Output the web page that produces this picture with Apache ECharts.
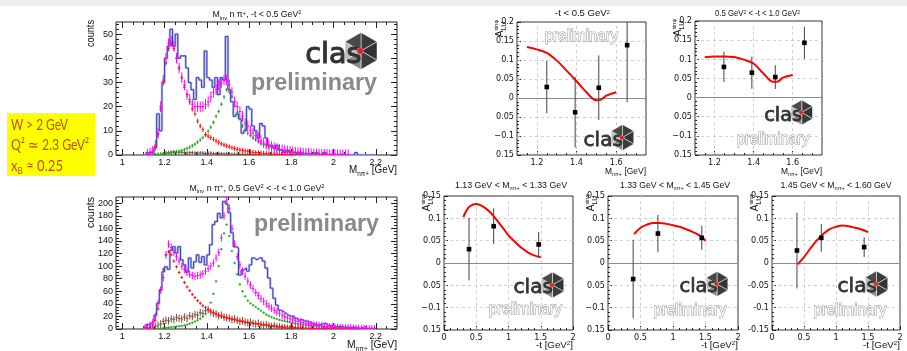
<!DOCTYPE html>
<html><head><meta charset="utf-8">
<script src="https://cdn.jsdelivr.net/npm/echarts@6/dist/echarts.min.js"></script>
<style>html,body{margin:0;padding:0;background:#fff}#c{width:907px;height:351px}</style>
</head><body><div id="c"></div>
<script>
// ================= DATA =================
const BIN_START = 1.1, BIN_WIDTH = 0.0125;

// -t < 0.5 GeV^2 : data, total, Delta, N*, background
const topData  = [0,1,1,1,3,17,10,30,40,45, 52,45,50,40,41,41,36,30,27,23, 32,31,28,43,32,31,28,32,25,32, 31,49,27,22,16,17,15,9,10,20, 19,12,10,7,13,12,7,4,4,3, 4,2,2,1,2,1,1,1,0,1, 0,0,0,0,0,1,0,0,1,0, 0,0,0,0,0,0,0,0,0,0, 1,0,0,0,0,0,0,0];
const topTotal = [0,0.3,0.8,1.5,4,9,20,31,40,46, 47,45,40,36,32,29,25,23,21,20, 20,20,20,21,22,24,26,27,29,30, 31,31,29,26,22,20,18,16,13,12, 10,9,8,7,6,5,4.5,4,3.5,3, 2.7,2.4,2.1,1.9,1.7,1.5,1.3,1.2,1.0,0.9, 0.8,0.7,0.6,0.5,0.5,0.4,0.4,0.3,0.3,0.3, 0.2,0.2,0.2,0.2,0.1,0.1,0.1,0.1,0,0, 0,0,0,0,0,0,0,0];
const topDelta = [0,0.2,0.6,1.2,3.5,8.5,19,30,38,44, 46,44,40,36,32,28,25,22,19,17, 14,12,10.5,8.5,7.8,7.2,6.5,5.8,5.2,4.6, 4.2,3.8,3.4,3.0,2.7,2.4,2.1,1.9,1.7,1.5, 1.3,1.1,1.0,0.9,0.8,0.7,0.6,0.5,0.45,0.4, 0.35,0.3,0.25,0.2,0.2,0.15,0.1,0.1,0.1,0.05, 0,0,0,0,0,0,0,0,0,0, 0,0,0,0,0,0,0,0,0,0, 0,0,0,0,0,0,0,0];
const topNstar = [0,0,0,0,0.1,0.2,0.3,0.4,0.5,0.6, 0.8,1.0,1.2,1.5,1.8,2.2,2.7,3.2,3.8,4.5, 5.3,6.2,7.2,8.3,9.8,11.5,13.5,16,18,21, 24,27,26,24,20.5,17.5,15,12,10.5,9, 8,7,6.3,5.6,5.0,4.4,3.9,3.4,3.0,2.7, 2.4,2.1,1.9,1.7,1.5,1.3,1.2,1.0,0.9,0.8, 0.7,0.6,0.5,0.45,0.4,0.35,0.3,0.25,0.2,0.2, 0.15,0.1,0.1,0.1,0.05,0.05,0,0,0,0, 0,0,0,0,0,0,0,0];
const topBkg   = [0,0,0,0,0,0.1,0.2,0.5,0.8,1.0, 1.2,1.3,1.2,1.0,1.1,0.9,0.8,0.9,1.0,0.8, 0.7,0.9,0.8,0.6,0.7,0.8,0.6,0.5,0.6,0.5, 0.4,0.5,0.4,0.3,0.3,0.3,0.2,0.2,0.2,0.1, 0.1,0.1,0.1,0,0,0,0,0,0,0, 0,0,0,0,0,0,0,0,0,0, 0,0,0,0,0,0,0,0,0,0, 0,0,0,0,0,0,0,0,0,0, 0,0,0,0,0,0,0,0];
const topErr = {total:2.2, delta:1.0, nstar:0.8, bkg:0.8};

// 0.5 < -t < 1.0 GeV^2
const botData  = [3,7,9,11,22,41,62,91,99,95, 125,131,121,131,110,102,91,113,97,107, 118,106,115,102,118,134,166,171,184,177, 203,199,185,153,131,129,86,94,97,92, 102,113,110,113,113,108,97,81,65,49, 38,30,28,25,22,20,21,17,14,15, 13,12,11,9,8,6,7,8,9,6, 5,5,4,4,4,3,3,2,3,2, 2,1,2,1,1,1,0,1];
const botTotal = [1,3,6,10,20,40,62,82,118,135, 130,122,115,108,100,95,90,87,85,84, 85,86,88,92,96,100,105,113,122,145, 180,205,192,160,135,115,102,92,84,76, 70,64,58,53,48,44,40,36,33,30, 27,25,22,20,18,16,14.5,13,12,11, 10,9,8,7,6.5,6,5.3,4.8,4.3,3.9, 3.5,3.1,2.8,2.5,2.2,2,1.8,1.6,1.4,1.2, 1,0.9,0.8,0.7,0.6,0.5,0.5,0.4];
const botDelta = [0.5,1.5,3,6,14,32,62,95,118,123, 118,108,99,90,82,74,67,61,55,50, 45,41,37,34,31,28,26,24,22,20, 19,18,17,16,15,14,13,12,11,10.5, 10,9.3,8.7,8,7.4,6.8,6.3,5.8,5.3,4.8, 4.4,4,3.7,3.4,3.1,2.8,2.5,2.3,2.1,1.9, 1.7,1.5,1.3,1.2,1.0,0.9,0.8,0.7,0.6,0.5, 0.45,0.4,0.35,0.3,0.25,0.2,0.2,0.15,0.1,0.1, 0.1,0,0,0,0,0,0,0];
const botNstar = [0,0,0,0,0,0.5,1,1.5,2,2.5, 3,3.5,4,4.5,5,6,7,8.5,10,12, 14,16.5,19.5,24,30,42,56,76,100,127, 152,166,148,124,105,87,71,60,52,45, 41,38,35,32,29,26,23,21,19,17.5, 16,14.5,13.5,12.5,11.5,10.5,9.5,8.8,8,7.4, 6.8,6.2,5.7,5.3,4.9,4.5,4.1,3.7,3.4,3.1, 2.8,2.5,2.3,2.1,1.9,1.7,1.5,1.3,1.2,1.0, 0.9,0.8,0.7,0.6,0.5,0.4,0.3,0.3];
const botBkg   = [0,1,2,3,4,6,8,12,14,13, 16,15,18,17,16,19,17,21,20,23, 22,26,25,29,31,27,25,24,21,22, 19,18,17,15,16,14,12,13,11,10, 11,9,8,9,7,6,7,5,4,5, 3,3,2,2,1,1,1,0.5,0.5,0.5, 0,0,0,0,0,0,0,0,0,0, 0,0,0,0,0,0,0,0,0,0, 0,0,0,0,0,0,0,0];
const botErr = {total:6, delta:2.5, nstar:2, bkg:6};

// tick labels
const histXTicks = [1,1.2,1.4,1.6,1.8,2,2.2];
const histXLabels = ['1','1.2','1.4','1.6','1.8','2','2.2'];
const topYTicks = [0,10,20,30,40,50];
const topYLabels = ['0','10','20','30','40','50'];
const botYTicks = [0,20,40,60,80,100,120,140,160,180,200];
const botYLabels = ['0','20','40','60','80','100','120','140','160','180','200'];
const massTicks = [1.2,1.4,1.6];
const massLabels = ['1.2','1.4','1.6'];
const tTicks = [0,0.5,1,1.5,2];
const tLabels = ['0','0.5','1','1.5','2'];
const asymYTicksAB = [0.2,0.15,0.1,0.05,0,-0.05,-0.1,-0.15];
const asymYLabelsAB = ['0.2','0.15','0.1','0.05','0','0.05','\u22120.1','0.15'];
const asymYTicksT = [0.15,0.1,0.05,0,-0.05,-0.1,-0.15];
const asymYLabelsCD = ['0.15','0.1','0.05','0','0.05','\u22120.1','0.15'];
const asymYLabelsE = ['0.15','0.1','0.05','0','-0.05','-0.1','-0.15'];

// beam-spin asymmetry vs M(n pi+)
const tLowM = [1.25,1.393,1.512,1.655];
const tLowA = [0.029,-0.0375,0.027,0.139];
const tLowErr = [0.069,0.093,0.085,0.15];
const tLowCurveM = [1.15,1.2,1.25,1.3,1.35,1.4,1.45,1.5,1.52,1.55,1.6];
const tLowCurveA = [0.134,0.128,0.119,0.099,0.072,0.044,0.015,-0.006,-0.005,0.006,0.015];
const tHighM = [1.248,1.391,1.511,1.66];
const tHighA = [0.080,0.065,0.0535,0.143];
const tHighErr = [0.04,0.042,0.031,0.042];
const tHighCurveM = [1.15,1.2,1.25,1.3,1.35,1.4,1.45,1.5,1.52,1.55,1.6];
const tHighCurveA = [0.1055,0.107,0.107,0.106,0.099,0.089,0.063,0.041,0.041,0.052,0.059];
// vs -t
const m1T = [0.388,0.77,1.468], m1A = [0.031,0.0824,0.0416], m1Err = [0.07,0.04,0.028];
const m1CurveT = [0.3,0.35,0.4,0.5,0.6,0.7,0.8,0.9,1.0,1.1,1.2,1.3,1.4,1.5];
const m1CurveA = [0.103,0.118,0.127,0.132,0.127,0.116,0.0995,0.081,0.062,0.0475,0.034,0.024,0.017,0.0127];
const m2T = [0.387,0.768,1.443], m2A = [-0.036,0.066,0.0564], m2Err = [0.088,0.042,0.027];
const m2CurveT = [0.4,0.5,0.6,0.7,0.8,0.9,1.0,1.1,1.2,1.3,1.4,1.5];
const m2CurveA = [0.0646,0.079,0.086,0.0898,0.0898,0.0876,0.0846,0.081,0.0757,0.0698,0.0624,0.0497];
const m3T = [0.39,0.77,1.44], m3A = [0.028,0.0564,0.0356], m3Err = [0.085,0.031,0.022];
const m3CurveT = [0.4,0.5,0.6,0.7,0.8,0.9,1.0,1.1,1.2,1.3,1.4,1.5];
const m3CurveA = [-0.003,0.0134,0.0327,0.0505,0.065,0.0757,0.081,0.0839,0.0824,0.079,0.075,0.069];

// ================= RENDER =================
const FONT = "'Liberation Sans', Arial, Helvetica, sans-serif";
const NARROW = "'Liberation Sans Narrow', 'DejaVu Sans Condensed', 'Liberation Sans', sans-serif";
const LOGOFONT = "'DejaVu Sans', sans-serif";
const mctx = document.createElement('canvas').getContext('2d');
function tw(t, s, fam, wt) { mctx.font = (wt || 'normal') + ' ' + s + 'px ' + fam; return mctx.measureText(t).width; }

const option = {animation:false, backgroundColor:'#ffffff', grid:[], xAxis:[], yAxis:[], series:[], graphic:{elements:[]}};
const G = option.graphic.elements;
const ZT = 100;

function rich(parts, o) {
  const fam = o.family || FONT, wt = o.weight || 'normal', col = o.color || '#111';
  let cursor = 0, lastStart = 0; const items = [];
  parts.forEach(p => {
    const w = tw(p.t, p.s, fam, wt);
    let st;
    if (p.stack) { st = lastStart; cursor = Math.max(cursor, st + w); }
    else { st = cursor; lastStart = st; cursor = st + w; }
    items.push({p, st});
  });
  const total = cursor;
  const off = o.align === 'right' ? -total : (o.align === 'center' ? -total / 2 : 0);
  const sc = o.width ? o.width / total : 1;
  const children = items.map(({p, st}) => ({type:'text', z:ZT, x: st + off, y: -0.35 * p.s + (p.dy || 0),
    style:{text:p.t, fontSize:p.s, fontFamily:fam, fontWeight:wt, fill:o.fill || col, stroke:o.stroke || null, lineWidth:o.lineWidth || 0, align:'left', verticalAlign:'middle'}}));
  G.push({type:'group', x:o.x, y:o.y, rotation:o.rotate || 0, scaleX:sc, z:ZT, silent:true, children});
}

function logo(cx, cy, r) {
  const ch = [];
  const vs = [];
  for (let k = 0; k < 6; k++) { const a = (-90 + 60 * k) * Math.PI / 180; vs.push([cx + r * Math.cos(a), cy + r * Math.sin(a)]); }
  const fills = ['#3b3b3b','#333333','#3b3b3b','#8a8a8a','#bdbdbd','#4a4a4a'];
  for (let k = 0; k < 6; k++) ch.push({type:'polygon', z:ZT, shape:{points:[[cx,cy], vs[k], vs[(k+1)%6]]}, style:{fill:fills[k], stroke:'#ffffff', lineWidth:0.5}});
  const fs = 1.55 * r;
  ch.push({type:'text', z:ZT, x:cx + 0.5, y:cy + 0.78 * r - 0.35 * fs, style:{text:'clas', fontSize:fs, fontFamily:LOGOFONT, fill:'#333333', stroke:'#333333', lineWidth:r * 0.06, align:'right', verticalAlign:'middle'}});
  ch.push({type:'circle', z:ZT, shape:{cx:cx - 0.05 * r, cy:cy, r:0.17 * r}, style:{fill:'#d8202a', stroke:'#f08080', lineWidth:0.6}});
  G.push({type:'group', z:ZT, silent:true, children:ch});
}

function minorVals(min, max, step, majors) {
  const out = []; const k0 = Math.ceil(min / step - 1e-9), k1 = Math.floor(max / step + 1e-9);
  for (let k = k0; k <= k1; k++) { const v = +(k * step).toFixed(6);
    if (v > min + 1e-9 && v < max - 1e-9 && !majors.some(m => Math.abs(m - v) < 1e-9)) out.push(v); }
  return out;
}

function addPanel(c) {
  const gi = option.grid.length;
  option.grid.push({left:c.l, top:c.t, width:c.w, height:c.h, show:true, borderColor:c.frame || '#222', borderWidth:1, backgroundColor:'rgba(0,0,0,0)'});
  const base = {gridIndex:gi, type:'value', silent:true, axisLine:{show:false, onZero:false}, splitLine:{show:false}};
  const fmt = (ticks, labels) => v => { for (let i = 0; i < ticks.length; i++) if (Math.abs(ticks[i] - v) < 1e-6) return labels[i]; return ''; };
  const ts = {color:'#222', width:1};
  const xMinor = minorVals(c.xMin, c.xMax, c.xMinorStep, c.xTicks);
  const yMinor = minorVals(c.yMin, c.yMax, c.yMinorStep, c.yTicks);
  const mk = (dim, pos, vals, len, labels) => Object.assign({}, base, {
    min: dim === 'x' ? c.xMin : c.yMin, max: dim === 'x' ? c.xMax : c.yMax, position:pos,
    axisTick:{show:true, inside:true, length:len, customValues:vals, lineStyle:ts},
    axisLabel: labels ? {show:true, customValues:vals, formatter:fmt(vals, labels), fontSize:c.fs, fontFamily:c.ff, color:'#111', margin: dim === 'x' ? c.xm : c.ym} : {show:false}
  });
  const xi = option.xAxis.length, yi = option.yAxis.length;
  option.xAxis.push(mk('x', 'bottom', c.xTicks, c.tl, c.xLabels));
  option.xAxis.push(mk('x', 'bottom', xMinor, c.ml, null));
  option.yAxis.push(mk('y', 'left', c.yTicks, c.tl, c.yLabels));
  option.yAxis.push(mk('y', 'left', yMinor, c.ml, null));
  if (c.mirror) {
    option.xAxis.push(mk('x', 'top', c.xTicks, c.tl, null));
    option.xAxis.push(mk('x', 'top', xMinor, c.ml, null));
    option.yAxis.push(mk('y', 'right', c.yTicks, c.tl, null));
    option.yAxis.push(mk('y', 'right', yMinor, c.ml, null));
  }
  return {xi, yi};
}

// ---------- histograms ----------
function histSeries(ax, vals, color, width, z) {
  const pts = [[BIN_START, 0]];
  vals.forEach((v, i) => pts.push([BIN_START + i * BIN_WIDTH, v]));
  const end = BIN_START + vals.length * BIN_WIDTH;
  pts.push([end, vals[vals.length - 1]]); pts.push([end, 0]);
  option.series.push({type:'line', xAxisIndex:ax.xi, yAxisIndex:ax.yi, data:pts, step:'end', showSymbol:false, silent:true, z:z,
    lineStyle:{color:color, width:width}});
}
function crossSeries(ax, vals, err, color, z) {
  const data = vals.map((v, i) => [BIN_START + (i + 0.5) * BIN_WIDTH, v, err]).filter(d => d[1] > 0);
  option.series.push({type:'custom', xAxisIndex:ax.xi, yAxisIndex:ax.yi, data:data, silent:true, z:z, clip:true,
    renderItem(params, api) {
      const x = api.value(0), y = api.value(1), e = api.value(2);
      const c = api.coord([x, y]), t = api.coord([x, y + e]), b = api.coord([x, y - e]);
      const l = api.coord([x - BIN_WIDTH / 2, y]), r = api.coord([x + BIN_WIDTH / 2, y]);
      return {type:'group', children:[
        {type:'line', shape:{x1:l[0], y1:c[1], x2:r[0], y2:c[1]}, style:{stroke:color, lineWidth:1}},
        {type:'line', shape:{x1:c[0], y1:t[1], x2:c[0], y2:b[1]}, style:{stroke:color, lineWidth:1}}]};
    }});
}
const histCommon = {l:116, w:281, xMin:0.97, xMax:2.3, xTicks:histXTicks, xLabels:histXLabels, xMinorStep:0.05,
  tl:6, ml:3, mirror:true, fs:9, ff:FONT, xm:3, ym:3};
const axTop = addPanel(Object.assign({}, histCommon, {t:22, h:133, yMin:0, yMax:55, yTicks:topYTicks, yLabels:topYLabels, yMinorStep:2}));
const axBot = addPanel(Object.assign({}, histCommon, {t:197, h:132, yMin:0, yMax:210, yTicks:botYTicks, yLabels:botYLabels, yMinorStep:5}));

[[axTop, topData, topTotal, topDelta, topNstar, topBkg, topErr], [axBot, botData, botTotal, botDelta, botNstar, botBkg, botErr]].forEach(([ax, d, tot, del, ns, bk, er]) => {
  histSeries(ax, d, '#bcc2ee', 2.4, 2);
  histSeries(ax, d, '#3a3ab8', 1, 3);
  crossSeries(ax, bk, er.bkg, '#7b4b3a', 4);
  crossSeries(ax, ns, er.nstar, '#2aa62a', 5);
  crossSeries(ax, del, er.delta, '#ff1010', 6);
  crossSeries(ax, tot, er.total, '#ff00ff', 7);
});

// ---------- asymmetry panels ----------
function asymPanel(c, px, py, pe, cx, cy) {
  const ax = addPanel(Object.assign({tl:4, ml:2, mirror:false, fs:9, ff:NARROW, xm:3, ym:3, frame:'#333'}, c));
  const ml = [];
  c.xTicks.forEach(v => { if (v > c.xMin + 1e-9 && v < c.xMax - 1e-9) ml.push({xAxis:v}); });
  c.yTicks.forEach(v => { if (v > c.yMin + 1e-9 && v < c.yMax - 1e-9 && Math.abs(v) > 1e-9) ml.push({yAxis:v}); });
  ml.push({yAxis:0, lineStyle:{type:'solid', color:'#8c8c8c', width:1}});
  option.series.push({type:'line', xAxisIndex:ax.xi, yAxisIndex:ax.yi, data:cx.map((v, i) => [v, cy[i]]), smooth:0.35,
    showSymbol:false, silent:true, z:5, lineStyle:{color:'#ff0000', width:2},
    markLine:{silent:true, symbol:['none','none'], label:{show:false}, animation:false, z:1,
      lineStyle:{type:[3,3], color:'#c4c4c4', width:0.8}, data:ml}});
  option.series.push({type:'custom', xAxisIndex:ax.xi, yAxisIndex:ax.yi, data:px.map((v, i) => [v, py[i], pe[i]]), silent:true, z:6, clip:true,
    renderItem(params, api) {
      const x = api.value(0), y = api.value(1), e = api.value(2);
      const p = api.coord([x, y]), t = api.coord([x, y + e]), b = api.coord([x, y - e]);
      return {type:'group', children:[
        {type:'line', shape:{x1:p[0], y1:t[1], x2:p[0], y2:b[1]}, style:{stroke:'#444', lineWidth:1}},
        {type:'rect', shape:{x:p[0] - 2.3, y:p[1] - 2.3, width:4.6, height:4.6}, style:{fill:'#000'}}]};
    }});
}
const mCommon = {xMin:1.1, xMax:1.75, xTicks:massTicks, xLabels:massLabels, xMinorStep:0.05,
  yMin:-0.15, yMax:0.2, yTicks:asymYTicksAB, yLabels:asymYLabelsAB, yMinorStep:0.01};
asymPanel(Object.assign({l:517, t:22, w:129, h:133}, mCommon), tLowM, tLowA, tLowErr, tLowCurveM, tLowCurveA);
asymPanel(Object.assign({l:695, t:21, w:127, h:134}, mCommon), tHighM, tHighA, tHighErr, tHighCurveM, tHighCurveA);
const tCommon = {xMin:0, xMax:2, xTicks:tTicks, xLabels:tLabels, xMinorStep:0.1,
  yMin:-0.15, yMax:0.15, yTicks:asymYTicksT, yMinorStep:0.01, t:196, h:134};
asymPanel(Object.assign({l:444, w:129, yLabels:asymYLabelsCD}, tCommon), m1T, m1A, m1Err, m1CurveT, m1CurveA);
asymPanel(Object.assign({l:608, w:130, yLabels:asymYLabelsCD}, tCommon), m2T, m2A, m2Err, m2CurveT, m2CurveA);
asymPanel(Object.assign({l:772, w:128, yLabels:asymYLabelsE}, tCommon), m3T, m3A, m3Err, m3CurveT, m3CurveA);

// ---------- decorations & texts ----------
G.push({type:'rect', shape:{x:0, y:0, width:907, height:6}, style:{fill:'#ececec'}, z:90, silent:true});
G.push({type:'rect', shape:{x:7, y:113, width:88, height:63}, style:{fill:'#ffff00'}, z:90, silent:true});
const BOXFONT = "Lato, 'Open Sans', sans-serif";
rich([{t:'W > 2 GeV', s:14.5}], {x:11, y:130, family:BOXFONT, color:'#bf5008', width:57});
rich([{t:'Q\u00b2 \u2243 2.3 GeV\u00b2', s:14.5}], {x:11, y:150.5, family:BOXFONT, color:'#bf5008', width:78});
rich([{t:'x', s:14.5}, {t:'B', s:9, dy:2.5}, {t:' \u2248 0.25', s:14.5}], {x:11, y:171.5, family:BOXFONT, color:'#bf5008', width:52});

// histogram titles
rich([{t:'M', s:9}, {t:'inv', s:6, dy:2}, {t:' n \u03c0', s:9}, {t:'+', s:6, dy:-3}, {t:', -t < 0.5 GeV', s:9}, {t:'2', s:6, dy:-3.5}], {x:257, y:18, align:'center', width:89});
rich([{t:'M', s:9}, {t:'inv', s:6, dy:2}, {t:' n \u03c0', s:9}, {t:'+', s:6, dy:-3}, {t:', 0.5 GeV', s:9}, {t:'2', s:6, dy:-3.5}, {t:' < -t < 1.0 GeV', s:9}, {t:'2', s:6, dy:-3.5}], {x:257, y:191.5, align:'center', width:135});
// counts
rich([{t:'counts', s:10.5}], {x:95, y:20, align:'right', rotate:Math.PI / 2, width:27});
rich([{t:'counts', s:10.5}], {x:95, y:197, align:'right', rotate:Math.PI / 2, width:31});
// x titles
const mpiParts = (s) => [{t:'M', s:s}, {t:'n\u03c0+', s:s * 0.65, dy:s * 0.25}, {t:' [GeV]', s:s}];
rich(mpiParts(10.5), {x:397, y:174, align:'right', width:48});
rich(mpiParts(10.5), {x:397, y:348.5, align:'right', width:50});
rich(mpiParts(9), {x:646, y:174.5, align:'right', width:41});
rich(mpiParts(9), {x:822, y:174.5, align:'right', width:41});
const tParts = [{t:'-t [GeV', s:9.5}, {t:'2', s:6, dy:-3.5}, {t:']', s:9.5}];
rich(tParts, {x:573, y:349, align:'right', width:37});
rich(tParts, {x:738, y:349, align:'right', width:37});
rich(tParts, {x:900, y:349, align:'right', width:37});
// asym titles
rich([{t:'-t < 0.5 GeV', s:8.5}, {t:'2', s:5.5, dy:-3}], {x:582.5, y:17, align:'center', width:55});
rich([{t:'0.5 GeV', s:8.5}, {t:'2', s:5.5, dy:-3}, {t:' < -t < 1.0 GeV', s:8.5}, {t:'2', s:5.5, dy:-3}], {x:757.5, y:17, align:'center', width:85});
const mTitle = (a, b) => [{t:a + ' GeV < M', s:9.5}, {t:'n\u03c0+', s:6, dy:2.3}, {t:' < ' + b + ' GeV', s:9.5}];
rich(mTitle('1.13', '1.33'), {x:511, y:188.5, align:'center', width:112});
rich(mTitle('1.33', '1.45'), {x:675, y:188.5, align:'center', width:110});
rich(mTitle('1.45', '1.60'), {x:836, y:188.5, align:'center', width:111});
// A_LU^sin(phi) y titles
const aParts = [{t:'A', s:10}, {t:'LU', s:7, dy:2.5}, {t:'sin\u03c6', s:5.5, dy:-5.5, stack:true}];
[[517, 22], [695, 21], [444, 196], [608, 196], [772, 196]].forEach(([l, t]) => rich(aParts, {x:l - 13, y:t - 2, align:'right', rotate:Math.PI / 2}));

// preliminary (histograms)
rich([{t:'preliminary', s:24}], {x:314, y:92, align:'center', weight:'bold', color:'#8a8a8a', width:126});
rich([{t:'preliminary', s:24}], {x:316.5, y:233, align:'center', weight:'bold', color:'#8a8a8a', width:125});
// preliminary (outlined)
[[581.5, 42], [773, 145], [525.5, 315], [690, 316], [850, 316]].forEach(([x, y]) =>
  rich([{t:'preliminary', s:17}], {x:x, y:y, align:'center', fill:'#ffffff', stroke:'#8c8c8c', lineWidth:1, width:73}));
// clas logos
logo(361, 51, 18.5);
logo(622.5, 137.5, 13);
logo(801.7, 112.5, 12.5);
logo(552.5, 285, 13);
logo(717, 284, 12.5);
logo(876.5, 284, 13);

const chart = echarts.init(document.getElementById('c'), null, {renderer:'canvas', width:907, height:351});
chart.setOption(option);
</script>
</body></html>
